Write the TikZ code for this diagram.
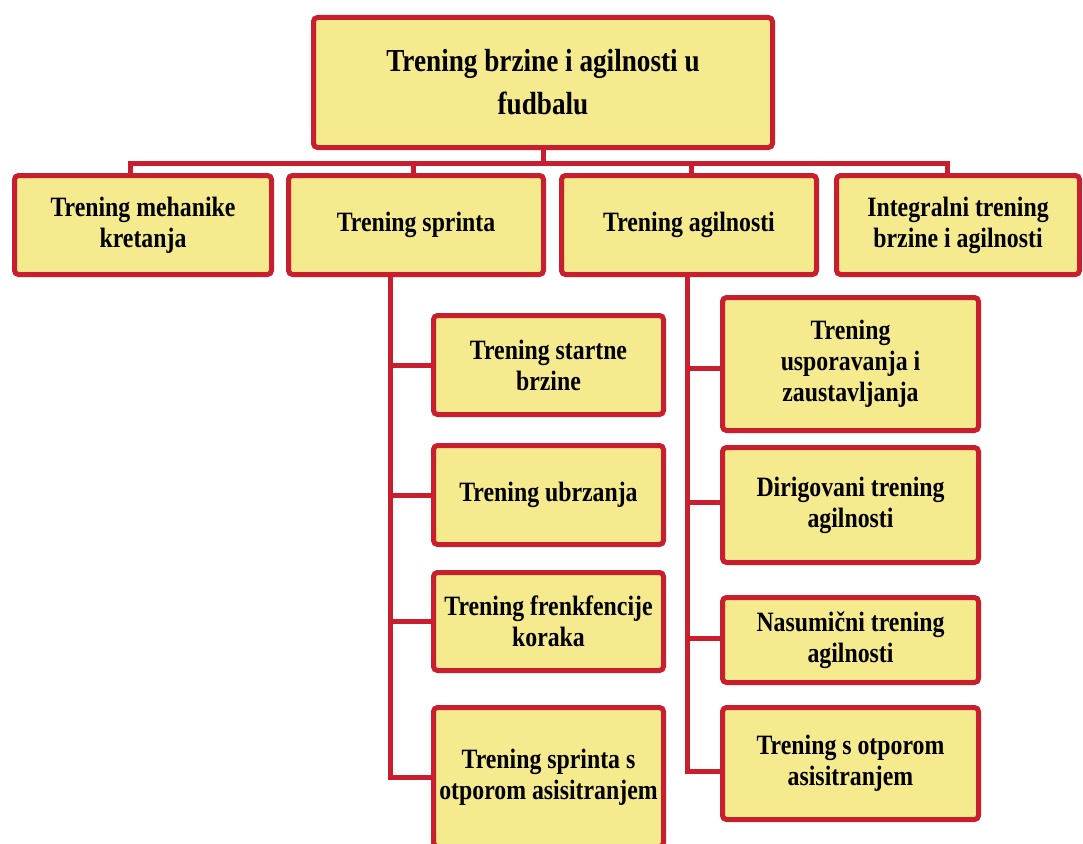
\documentclass[tikz,border=0pt]{standalone}
\usepackage{fontspec}
\setmainfont{Liberation Serif}[FakeStretch=0.85]
\definecolor{boxred}{RGB}{200,30,45}
\definecolor{boxfill}{RGB}{245,235,142}
\begin{document}
\begin{tikzpicture}[x=1pt,y=-1pt,
  box/.style={draw=boxred, fill=boxfill, line width=5pt, rounded corners=4pt,
    align=center, inner sep=2pt, font=\bfseries\fontsize{28}{31}\selectfont},
  conn/.style={draw=boxred, line width=5pt}]
\useasboundingbox (0,0) rectangle (1083,843);
\clip (0,0) rectangle (1083,843);

% top
\node[box, minimum width=459pt, minimum height=130pt,
  font=\bfseries\fontsize{32}{43}\selectfont] (top) at (543,82.5)
  {Trening brzine i agilnosti u\\fudbalu};

% level 2
\node[box, minimum width=257pt, minimum height=99pt] (b1) at (143,225) {Trening mehanike\\kretanja};
\node[box, minimum width=255pt, minimum height=99pt] (b2) at (416,225) {Trening sprinta};
\node[box, minimum width=255pt, minimum height=99pt] (b3) at (689,225) {Trening agilnosti};
\node[box, minimum width=243pt, minimum height=99pt] (b4) at (958,225) {Integralni trening\\brzine i agilnosti};

% sprint children
\node[box, minimum width=230pt, minimum height=99pt] (s1) at (548.5,365) {Trening startne\\brzine};
\node[box, minimum width=230pt, minimum height=99pt] (s2) at (548.5,495) {Trening ubrzanja};
\node[box, minimum width=230pt, minimum height=98pt] (s3) at (548.5,621.5) {Trening frenkfencije\\koraka};
\node[box, minimum width=230pt, minimum height=139pt] (s4) at (548.5,777) {Trening sprinta s\\otporom asisitranjem};

% agility children
\node[box, minimum width=256pt, minimum height=133pt] (a1) at (850.5,364) {Trening\\usporavanja i\\zaustavljanja};
\node[box, minimum width=256pt, minimum height=115pt] (a2) at (850.5,505) {Dirigovani trening\\agilnosti};
\node[box, minimum width=256pt, minimum height=85pt] (a3) at (850.5,640) {Nasumični trening\\agilnosti};
\node[box, minimum width=256pt, minimum height=112pt] (a4) at (850.5,763.5) {Trening s otporom\\asisitranjem};

% connectors from top
\coordinate (barL) at (130,163);
\coordinate (barR) at (947,163);
\draw[conn] (barL |- b1.north) -- (barL) -- (barR) -- (barR |- b4.north);
\draw[conn] (top.south) -- (top.south |- barL);
\draw[conn] ([xshift=-3pt]b2.north |- barL) -- ([xshift=-3pt]b2.north);
\draw[conn] ([xshift=2pt]b3.north |- barL) -- ([xshift=2pt]b3.north);

% sprint branch
\coordinate (sx) at (390,0);
\draw[conn] (b2.south -| sx) -- (sx |- s4.west) -- (s4.west);
\draw[conn] (sx |- s1.west) -- (s1.west);
\draw[conn] (sx |- s2.west) -- (s2.west);
\draw[conn] (sx |- s3.west) -- (s3.west);

% agility branch
\coordinate (ax) at (687,0);
\coordinate (a4b) at ([yshift=-8pt]a4.west);
\coordinate (a1b) at ([yshift=-4pt]a1.west);
\coordinate (a2b) at ([yshift=3pt]a2.west);
\coordinate (a3b) at ([yshift=2pt]a3.west);
\draw[conn] (b3.south -| ax) -- (ax |- a4b) -- (a4b);
\draw[conn] (ax |- a1b) -- (a1b);
\draw[conn] (ax |- a2b) -- (a2b);
\draw[conn] (ax |- a3b) -- (a3b);
\end{tikzpicture}
\end{document}
